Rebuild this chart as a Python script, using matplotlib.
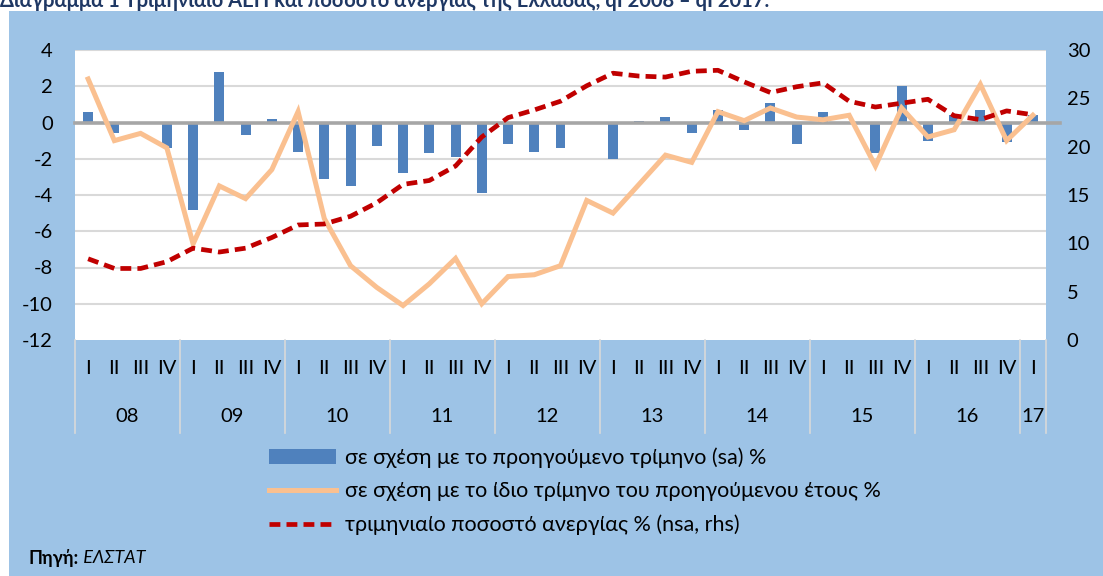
import matplotlib
matplotlib.use('Agg')
import numpy as np
import matplotlib.pyplot as plt
from matplotlib.patches import Rectangle, Patch
from matplotlib.lines import Line2D

plt.rcParams['font.family'] = ['Lato', 'Noto Sans', 'DejaVu Sans']
plt.rcParams['font.size'] = 14
plt.rcParams['axes.unicode_minus'] = False

# data: q1 2008 - q1 2017
years = ['08', '09', '10', '11', '12', '13', '14', '15', '16', '17']
quarters = ['I', 'II', 'III', 'IV']
qoq = [0.6, -0.6, -0.05, -1.4, -4.8, 2.8, -0.7, 0.2,
       -1.6, -3.1, -3.5, -1.3, -2.8, -1.7, -1.9, -3.9,
       -1.2, -1.6, -1.4, -0.05, -2.0, 0.1, 0.3, -0.6,
       0.7, -0.4, 1.1, -1.2, 0.6, -0.05, -1.7, 2.0,
       -1.0, 0.4, 0.7, -1.1, 0.4]
yoy = [2.4, -1.0, -0.6, -1.4, -6.7, -3.5, -4.2, -2.6,
       0.6, -5.3, -7.9, -9.1, -10.1, -8.9, -7.5, -10.0,
       -8.5, -8.4, -7.9, -4.3, -5.0, -3.4, -1.8, -2.2,
       0.6, 0.1, 0.8, 0.3, 0.15, 0.4, -2.4, 0.8,
       -0.8, -0.4, 2.1, -1.0, 0.4]
unemp = [8.4, 7.4, 7.4, 8.1, 9.5, 9.1, 9.5, 10.6,
         11.9, 12.0, 12.8, 14.2, 16.1, 16.5, 18.0, 21.0,
         23.0, 23.8, 24.7, 26.3, 27.6, 27.3, 27.2, 27.8,
         27.9, 26.7, 25.6, 26.2, 26.6, 24.7, 24.1, 24.5,
         24.9, 23.2, 22.8, 23.7, 23.3]

labels = {
    'qoq': 'σε σχέση με το προηγούμενο τρίμηνο (sa) %',
    'yoy': 'σε σχέση με το ίδιο τρίμηνο του προηγούμενου έτους %',
    'unemp': 'τριμηνιαίο ποσοστό ανεργίας % (nsa, rhs)',
}

colors = {
    'bg': '#9DC3E6',
    'bar': '#4F81BD',
    'yoy': '#FAC090',
    'unemp': '#C00000',
    'grid': '#D9D9D9',
    'zero': '#A6A6A6',
    'title': '#1F3864',
}

W, H = 1103, 576
fig = plt.figure(figsize=(W / 100, H / 100), dpi=100, facecolor='white')
fig.patches.append(Rectangle((9 / W, 0), 1 - 9 / W, 1 - 11 / H,
                             transform=fig.transFigure, facecolor=colors['bg'],
                             edgecolor='none', zorder=-10))

ax = fig.add_axes([75 / W, 1 - 340 / H, (1046 - 75) / W, (340 - 50) / H])
ax.set_facecolor('white')
n = len(qoq)
x = np.arange(n)

ax.set_xlim(-0.5, n - 0.5)
ax.set_ylim(-12, 4)
ax.set_yticks(np.arange(-12, 5, 2))
for v in np.arange(-10, 5, 2):
    if v != 0:
        ax.axhline(v, color=colors['grid'], lw=1.5, zorder=0)

ax.bar(x, qoq, width=0.38, color=colors['bar'], zorder=2)
ax.plot([-0.5, n - 0.5 + 0.55], [0, 0], color=colors['zero'], lw=2.6,
        zorder=3, clip_on=False)
ax.plot(x, yoy, color=colors['yoy'], lw=3.6, zorder=4, solid_joinstyle='miter')

ax2 = ax.twinx()
ax2.set_ylim(0, 30)
ax2.set_yticks(np.arange(0, 31, 5))
ax2.plot(x, unemp, color=colors['unemp'], lw=3.4, dashes=(2.3, 1.3), zorder=5)

for a in (ax, ax2):
    for s in a.spines.values():
        s.set_visible(False)
    a.tick_params(axis='both', length=0, labelsize=14.5)
ax.tick_params(axis='y', pad=16)
ax2.tick_params(axis='y', pad=15)
ax.set_xticks([])

# two level category axis
trans = ax.get_xaxis_transform()
for i in range(n):
    ax.text(i, -0.1, quarters[i % 4], transform=trans, ha='center',
            va='center', fontsize=14.5)
for k, yr in enumerate(years):
    start = k * 4 - 0.5
    end = min(k * 4 + 3.5, n - 0.5)
    ax.text((start + end) / 2, -0.265, yr, transform=trans, ha='center',
            va='center', fontsize=14.5)
bounds = [k * 4 - 0.5 for k in range(len(years))] + [n - 0.5]
for b in bounds:
    ax.plot([b, b], [0, -0.32], transform=trans, color=colors['grid'],
            lw=1.2, clip_on=False)

handles = [Patch(facecolor=colors['bar'], edgecolor='none'),
           Line2D([], [], color=colors['yoy'], lw=3.6),
           Line2D([], [], color=colors['unemp'], lw=3.4, dashes=(2.3, 1.3))]
fig.legend(handles, [labels['qoq'], labels['yoy'], labels['unemp']],
           loc='upper left', bbox_to_anchor=(250 / W, 1 - 428 / H),
           frameon=False, fontsize=15.5, handlelength=3.1, handleheight=0.65,
           handletextpad=0.42, labelspacing=0.62)

fig.text(0.0, 1 - 7 / H,
         'Διάγραμμα 1 Τριμηνιαίο ΑΕΠ και ποσοστό ανεργίας της Ελλάδας, qI 2008 – qI 2017:',
         fontsize=14.5, fontweight='bold', color=colors['title'], va='baseline',
         ha='left')

t1 = fig.text(28 / W, 1 - 558 / H, 'Πηγή:', fontsize=13, fontweight='bold',
              va='center', ha='left')
t2 = fig.text(28 / W, 1 - 558 / H, ' ΕΛΣΤΑΤ', fontsize=13, style='italic',
              va='center', ha='left')
fig.canvas.draw()
bb = t1.get_window_extent()
t2.set_position(((bb.x1 + 1) / W, 1 - 558 / H))

fig.savefig('out.png', dpi=100, facecolor=fig.get_facecolor())
